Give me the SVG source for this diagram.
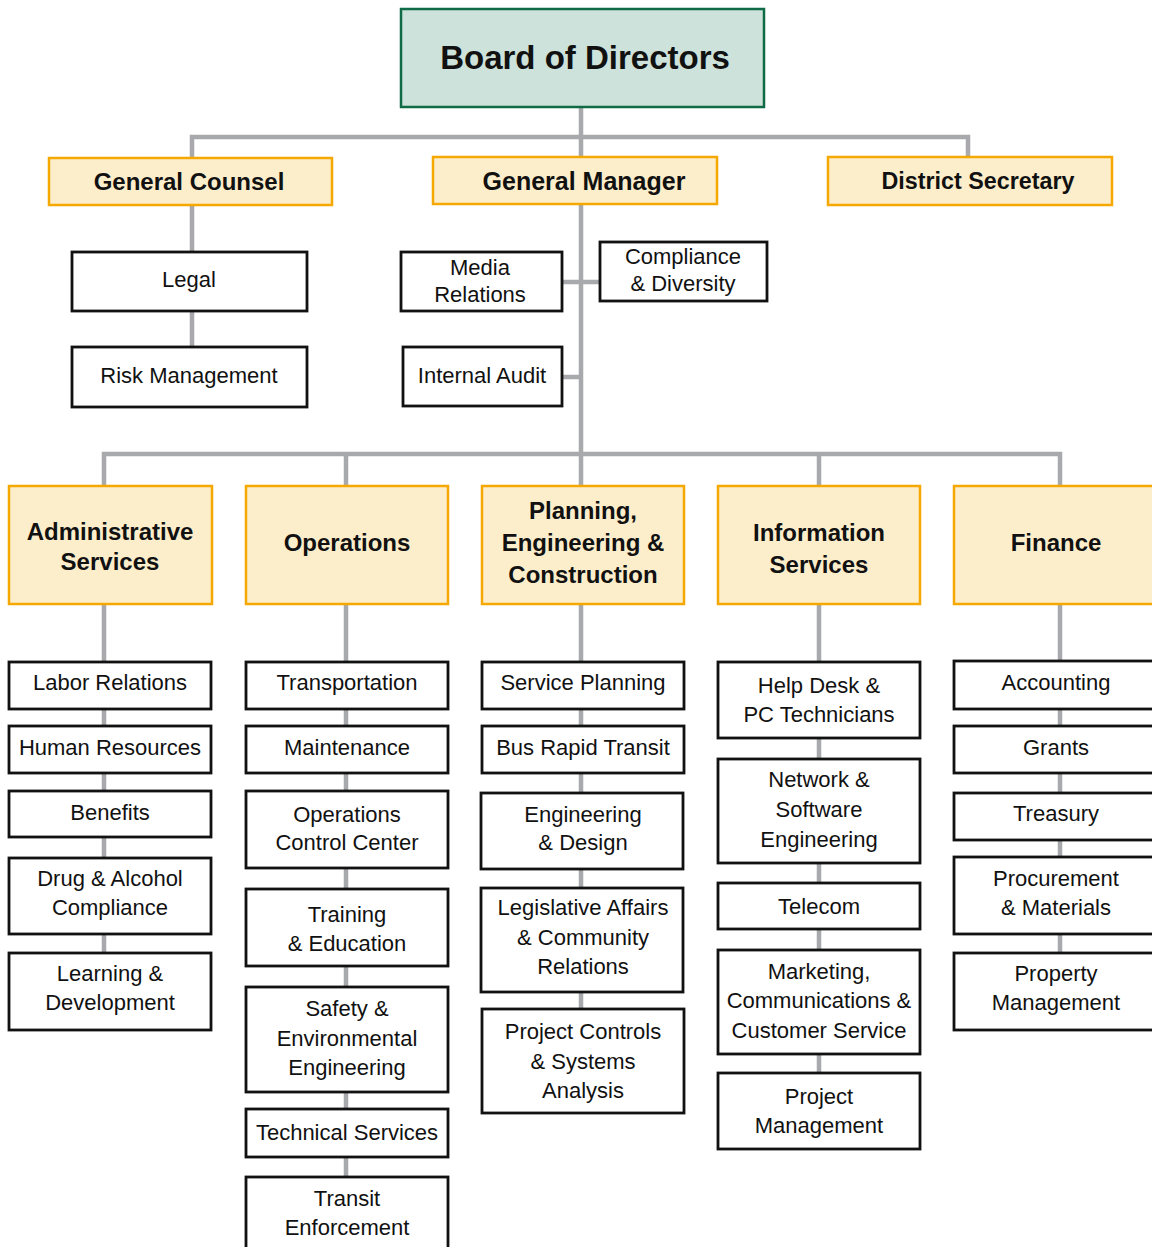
<svg xmlns="http://www.w3.org/2000/svg" width="1152" height="1247" viewBox="0 0 1152 1247">
<style>
.bg{fill:#ffffff}
.conn{fill:none;stroke:#a7a9ac;stroke-width:4.5;stroke-linejoin:miter;stroke-linecap:butt}
.board{fill:#cde2da;stroke:#0e6b45;stroke-width:2.5}
.head{fill:#fdeecb;stroke:#f5a800;stroke-width:2.5}
.unit{fill:#ffffff;stroke:#111111;stroke-width:2.8}
text{font-family:"Liberation Sans",Arial,sans-serif;fill:#111111;text-anchor:middle;dominant-baseline:central}
.tb{font-size:33px;font-weight:bold}
.t1{font-size:24px;font-weight:bold}
.t2{font-size:24px;font-weight:bold}
.t3{font-size:22px}
</style>
<rect class="bg" x="0" y="0" width="1152" height="1247"/>
<g id="connectors">
<path class="conn" d="M581,107 V486"/>
<path class="conn" d="M192,157 V137 H968 V157"/>
<path class="conn" d="M192,205 V347"/>
<path class="conn" d="M562,282 H600"/>
<path class="conn" d="M562,377 H581"/>
<path class="conn" d="M104,486 V454 H1060 V486"/>
<path class="conn" d="M346,454 V486"/>
<path class="conn" d="M819,454 V486"/>
<path class="conn" d="M104,604 V953"/>
<path class="conn" d="M346,604 V1177"/>
<path class="conn" d="M581,604 V1008"/>
<path class="conn" d="M819,604 V1073"/>
<path class="conn" d="M1060,604 V953"/>
</g>
<g id="board"><rect class="board" x="401" y="9" width="363" height="98"/><text class="tb" x="585" y="57">Board of Directors</text></g>
<g id="general-counsel"><rect class="head" x="49" y="158" width="283" height="47"/><text class="t1" x="189" y="181">General Counsel</text></g>
<g id="general-manager"><rect class="head" x="433" y="157" width="284" height="47"/><text class="t1" x="584" y="181" style="font-size:25px">General Manager</text></g>
<g id="district-secretary"><rect class="head" x="828" y="157" width="284" height="48"/><text class="t1" x="978" y="181" style="font-size:23.3px">District Secretary</text></g>
<g id="legal"><rect class="unit" x="72" y="252" width="235" height="59"/><text class="t3" x="189" y="279">Legal</text></g>
<g id="risk-management"><rect class="unit" x="72" y="347" width="235" height="60"/><text class="t3" x="189" y="375">Risk Management</text></g>
<g id="media-relations"><rect class="unit" x="401" y="252" width="161" height="59"/><text class="t3" x="480" y="267">Media</text><text class="t3" x="480" y="294">Relations</text></g>
<g id="compliance"><rect class="unit" x="600" y="242" width="167" height="59"/><text class="t3" x="683" y="256">Compliance</text><text class="t3" x="683" y="283">&amp; Diversity</text></g>
<g id="internal-audit"><rect class="unit" x="403" y="347" width="159" height="59"/><text class="t3" x="482" y="375">Internal Audit</text></g>
<g id="administrative-services"><rect class="head" x="9" y="486" width="203" height="118"/><text class="t2" x="110" y="531">Administrative</text><text class="t2" x="110" y="561">Services</text></g>
<g id="operations"><rect class="head" x="246" y="486" width="202" height="118"/><text class="t2" x="347" y="542">Operations</text></g>
<g id="planning"><rect class="head" x="482" y="486" width="202" height="118"/><text class="t2" x="583" y="510">Planning,</text><text class="t2" x="583" y="542">Engineering &amp;</text><text class="t2" x="583" y="574">Construction</text></g>
<g id="information-services"><rect class="head" x="718" y="486" width="202" height="118"/><text class="t2" x="819" y="532">Information</text><text class="t2" x="819" y="564">Services</text></g>
<g id="finance"><rect class="head" x="954" y="486" width="202" height="118"/><text class="t2" x="1056" y="542">Finance</text></g>
<g id="labor-relations"><rect class="unit" x="9" y="662" width="202" height="47"/><text class="t3" x="110" y="682">Labor Relations</text></g>
<g id="human-resources"><rect class="unit" x="9" y="726" width="202" height="47"/><text class="t3" x="110" y="747">Human Resources</text></g>
<g id="benefits"><rect class="unit" x="9" y="791" width="202" height="46"/><text class="t3" x="110" y="812">Benefits</text></g>
<g id="drug-alcohol"><rect class="unit" x="9" y="858" width="202" height="76"/><text class="t3" x="110" y="878">Drug &amp; Alcohol</text><text class="t3" x="110" y="907">Compliance</text></g>
<g id="learning"><rect class="unit" x="9" y="953" width="202" height="77"/><text class="t3" x="110" y="973">Learning &amp;</text><text class="t3" x="110" y="1002">Development</text></g>
<g id="transportation"><rect class="unit" x="246" y="662" width="202" height="47"/><text class="t3" x="347" y="682">Transportation</text></g>
<g id="maintenance"><rect class="unit" x="246" y="726" width="202" height="47"/><text class="t3" x="347" y="747">Maintenance</text></g>
<g id="occ"><rect class="unit" x="246" y="791" width="202" height="77"/><text class="t3" x="347" y="814">Operations</text><text class="t3" x="347" y="842">Control Center</text></g>
<g id="training"><rect class="unit" x="246" y="889" width="202" height="77"/><text class="t3" x="347" y="914">Training</text><text class="t3" x="347" y="943">&amp; Education</text></g>
<g id="safety"><rect class="unit" x="246" y="987" width="202" height="105"/><text class="t3" x="347" y="1008">Safety &amp;</text><text class="t3" x="347" y="1038">Environmental</text><text class="t3" x="347" y="1067">Engineering</text></g>
<g id="technical-services"><rect class="unit" x="246" y="1109" width="202" height="48"/><text class="t3" x="347" y="1132">Technical Services</text></g>
<g id="transit-enforcement"><rect class="unit" x="246" y="1177" width="202" height="80"/><text class="t3" x="347" y="1198">Transit</text><text class="t3" x="347" y="1227">Enforcement</text></g>
<g id="service-planning"><rect class="unit" x="482" y="662" width="202" height="47"/><text class="t3" x="583" y="682">Service Planning</text></g>
<g id="brt"><rect class="unit" x="482" y="726" width="202" height="47"/><text class="t3" x="583" y="747">Bus Rapid Transit</text></g>
<g id="engineering-design"><rect class="unit" x="481" y="793" width="202" height="76"/><text class="t3" x="583" y="814">Engineering</text><text class="t3" x="583" y="842">&amp; Design</text></g>
<g id="legislative"><rect class="unit" x="481" y="888" width="202" height="104"/><text class="t3" x="583" y="907">Legislative Affairs</text><text class="t3" x="583" y="937">&amp; Community</text><text class="t3" x="583" y="966">Relations</text></g>
<g id="project-controls"><rect class="unit" x="482" y="1009" width="202" height="104"/><text class="t3" x="583" y="1031">Project Controls</text><text class="t3" x="583" y="1061">&amp; Systems</text><text class="t3" x="583" y="1090">Analysis</text></g>
<g id="help-desk"><rect class="unit" x="718" y="662" width="202" height="76"/><text class="t3" x="819" y="685">Help Desk &amp;</text><text class="t3" x="819" y="714">PC Technicians</text></g>
<g id="network"><rect class="unit" x="718" y="759" width="202" height="104"/><text class="t3" x="819" y="779">Network &amp;</text><text class="t3" x="819" y="809">Software</text><text class="t3" x="819" y="839">Engineering</text></g>
<g id="telecom"><rect class="unit" x="718" y="883" width="202" height="46"/><text class="t3" x="819" y="906">Telecom</text></g>
<g id="marketing"><rect class="unit" x="718" y="950" width="202" height="104"/><text class="t3" x="819" y="971">Marketing,</text><text class="t3" x="819" y="1000">Communications &amp;</text><text class="t3" x="819" y="1030">Customer Service</text></g>
<g id="project-management"><rect class="unit" x="718" y="1073" width="202" height="76"/><text class="t3" x="819" y="1096">Project</text><text class="t3" x="819" y="1125">Management</text></g>
<g id="accounting"><rect class="unit" x="954" y="661" width="202" height="48"/><text class="t3" x="1056" y="682">Accounting</text></g>
<g id="grants"><rect class="unit" x="954" y="726" width="202" height="47"/><text class="t3" x="1056" y="747">Grants</text></g>
<g id="treasury"><rect class="unit" x="954" y="793" width="202" height="47"/><text class="t3" x="1056" y="813">Treasury</text></g>
<g id="procurement"><rect class="unit" x="954" y="857" width="202" height="77"/><text class="t3" x="1056" y="878">Procurement</text><text class="t3" x="1056" y="907">&amp; Materials</text></g>
<g id="property"><rect class="unit" x="954" y="953" width="202" height="77"/><text class="t3" x="1056" y="973">Property</text><text class="t3" x="1056" y="1002">Management</text></g>
</svg>
